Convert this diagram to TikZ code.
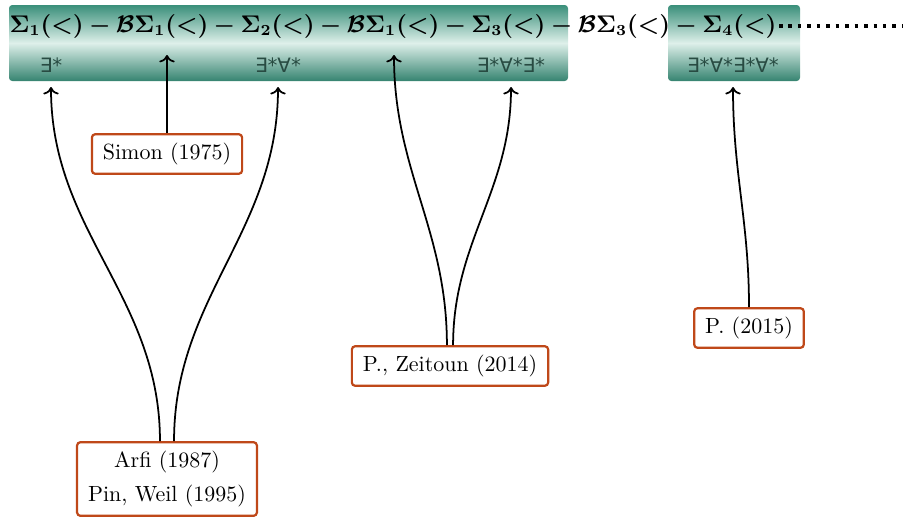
\documentclass[tikz,border=0pt]{standalone}
\usepackage{amsmath,amssymb}
\usepackage{fontspec}
\usepackage{tikz}
\usetikzlibrary{positioning}
\usetikzlibrary{arrows.meta}
\newfontfamily\quantfont{DejaVu Sans}
\definecolor{bandteal}{RGB}{58,143,122}
\definecolor{bandlight}{RGB}{222,240,234}
\definecolor{quantgray}{RGB}{40,75,66}
\definecolor{refred}{RGB}{191,72,25}

\begin{document}
\begin{tikzpicture}[
		x=0.455pt, y=-0.455pt,
		band/.style={top color=bandteal, bottom color=bandteal!92!black, middle color=bandlight, rounded corners=1.5pt},
		cls/.style={inner xsep=1pt, inner ysep=1pt, font=\fontsize{10.6}{13}\selectfont},
		quant/.style={text=quantgray, font=\quantfont\small, inner xsep=2pt, inner ysep=6.5pt},
		ref/.style={draw=refred, line width=1pt, rounded corners=1.5pt, fill=white, inner xsep=5pt, inner ysep=4pt},
		link/.style={->, thick}
		]
		
		\useasboundingbox (0,0) rectangle (903,517);
		
		% Shaded bands behind the hierarchy
		\shade[band] (9,5) rectangle (568,81);
		\shade[band] (668,5) rectangle (800,81);
		
		% The hierarchy, left to right
		\node[cls, anchor=west] (s1) at (7,26) {$\boldsymbol{\Sigma_1(<)}$};
		\node[cls, base right=0pt of s1] (m1) {$\boldsymbol{-}$};
		\node[cls, base right=0pt of m1] (b1) {$\boldsymbol{\mathcal{B}\Sigma_1(<)}$};
		\node[cls, base right=0pt of b1] (m2) {$\boldsymbol{-}$};
		\node[cls, base right=0pt of m2] (s2) {$\boldsymbol{\Sigma_2(<)}$};
		\node[cls, base right=0pt of s2] (m3) {$\boldsymbol{-}$};
		\node[cls, base right=0pt of m3] (b2) {$\boldsymbol{\mathcal{B}\Sigma_1(<)}$};
		\node[cls, base right=0pt of b2] (m4) {$\boldsymbol{-}$};
		\node[cls, base right=0pt of m4] (s3) {$\boldsymbol{\Sigma_3(<)}$};
		\node[cls, base right=0pt of s3] (m5) {$\boldsymbol{-}$};
		\node[cls, base right=0pt of m5] (b3) {$\boldsymbol{\mathcal{B}\Sigma_3(<)}$};
		\node[cls, base right=0pt of b3] (m6) {$\boldsymbol{-}$};
		\node[cls, base right=0pt of m6] (s4) {$\boldsymbol{\Sigma_4(<)}$};
		
		\coordinate (dotend) at (903,0);
		\draw[line width=1.6pt, dash pattern=on 1.6pt off 2.7pt] (s4.east) -- (s4.east -| dotend);
		
		% Quantifier prefixes
		\node[quant] (e1) at (51,65) {∃*};
		\node[quant] (e2) at (278,65) {∃*∀*};
		\node[quant] (e3) at (511,65) {∃*∀*∃*};
		\node[quant] (e4) at (733,65) {∃*∀*∃*∀*};
		
		% References
		\node[ref] (simon) at (167,154) {Simon (1975)};
		\node[ref, align=center] (arfi) at (167,479) {Arfi (1987)\\[3.5pt] Pin, Weil (1995)};
		\node[ref] (pz) at (450,366) {P., Zeitoun (2014)};
		\node[ref] (p15) at (749,328) {P. (2015)};
		
		\coordinate (b1foot) at (167,55);
		\coordinate (b2foot) at (394,55);
		
		% Decidability results
		\draw[link] (simon) -- (b1foot);
		\draw[link] ([xshift=-3.2pt]arfi.north) to[out=90,in=-90] (e1);
		\draw[link] ([xshift=3.2pt]arfi.north) to[out=90,in=-90] (e2);
		\draw[link] ([xshift=-1.4pt]pz.north) to[out=90,in=-90] (b2foot);
		\draw[link] ([xshift=1.4pt]pz.north) to[out=90,in=-90] (e3);
		\draw[link] (p15) to[out=90,in=-90] (e4);
		
	\end{tikzpicture}
\end{document}
